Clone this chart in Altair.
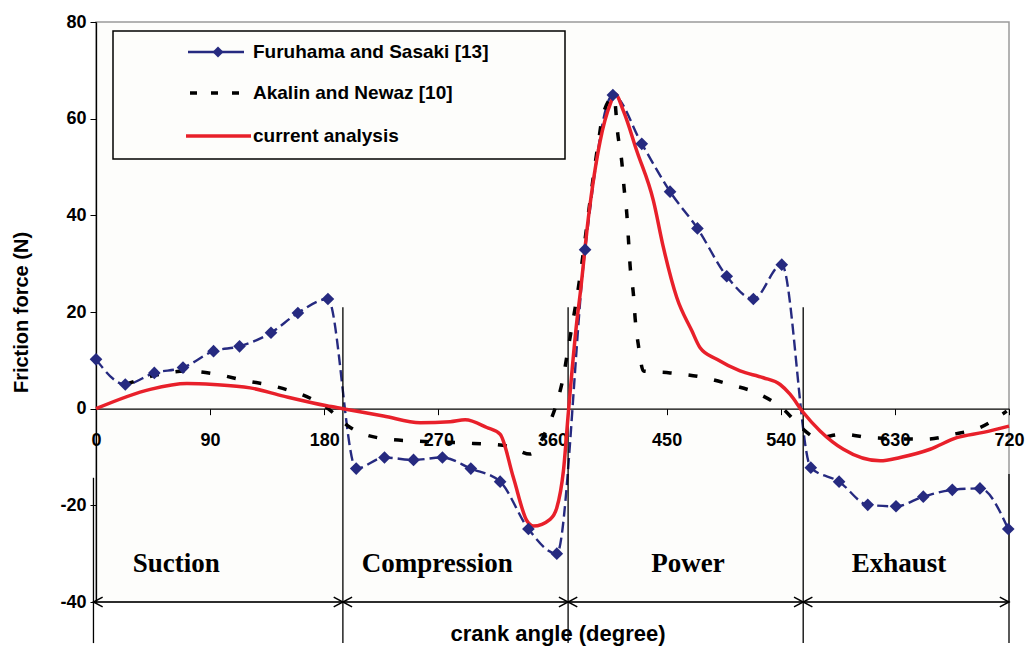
import altair as alt
import pandas as pd

# ---------------- data ----------------
fs_angle = [0, 23.1, 46, 68.6, 92.7, 113.2, 138, 159.2, 182.9, 205.2, 227.5, 250.4, 273.2,
            295.6, 318.7, 341, 363.4, 385.7, 407.6, 430.4, 452.7, 474.3, 497.4, 518.4,
            540.8, 563.7, 586, 608.6, 630.9, 652.4, 675.3, 697.1, 719.4]
fs_force = [10.2, 5.0, 7.4, 8.5, 11.9, 12.9, 15.7, 19.8, 22.7, -12.4, -10.1, -10.6, -10.1,
            -12.4, -15.1, -24.9, -30.0, 32.9, 64.9, 54.8, 44.9, 37.3, 27.4, 22.7,
            29.8, -12.2, -15.1, -19.9, -20.2, -18.2, -16.8, -16.5, -24.9]

an_angle = [23, 45, 71.7, 95.4, 117.7, 139.8, 183, 200.5, 229.4, 253, 297.7, 324, 342.4,
            355.5, 363.4, 368.4, 372.3, 379.2, 396, 399.9, 408.5, 411.5, 414.7, 416.5,
            418.6, 419.9, 421.3, 423.8, 425.2, 427.8, 431.7, 452.7, 476.4, 500, 522.4,
            542, 557.8, 568.4, 589.4, 610.4, 655.1, 676.1, 697.1, 718.2]
an_force = [5.0, 6.8, 7.8, 7.1, 5.8, 4.7, 0.0, -3.9, -6.3, -6.7, -7.2, -7.7, -9.4,
            -4.2, 1.2, 6.4, 12.4, 23.0, 54.8, 61.0, 64.5, 56.8, 50.9, 45.5,
            40.3, 35.0, 29.2, 23.7, 18.6, 13.0, 7.8, 7.4, 6.6, 5.0, 3.1,
            -0.1, -4.3, -6.0, -5.3, -6.0, -6.3, -5.3, -3.9, -0.5]

ca_angle = [0, 42.8, 71.7, 92.7, 121.6, 147.9, 182, 194.7, 226.7, 255.7, 279.3, 291.1, 308.2,
            318.7, 329.2, 339.8, 345, 358.1, 363.4, 368.6, 372.6, 379.2, 381.8, 388.3,
            397.6, 405.5, 409.4, 415.9, 426.5, 439.6, 447.5, 458, 469.9, 476.4, 489.6,
            507.9, 526.3, 539.5, 547.3, 557.8, 571, 589.4, 618.4, 634.2, 657.8, 678.8,
            699.7, 720]
ca_force = [0, 4.0, 5.2, 5.0, 4.3, 2.6, 0.6, 0.0, -1.5, -2.9, -2.7, -2.3, -3.9,
            -5.3, -14.3, -23.2, -24.3, -22.9, -20.5, -12.9, -0.5, 18.1, 23.7, 39.5,
            55.4, 63.0, 65.1, 61.6, 53.3, 43.0, 33.3, 23.0, 16.1, 12.6, 10.2,
            7.8, 6.4, 5.0, 3.0, -0.8, -4.6, -8.4, -10.8, -10.1, -8.4, -6.0,
            -4.9, -3.6]

x_ticks = [0, 90, 180, 270, 360, 450, 540, 630, 720]
y_ticks = [-40, -20, 0, 20, 40, 60, 80]

phase_names = ["Suction", "Compression", "Power", "Exhaust"]
phase_start = [-2, 194.7, 372.3, 557.7]
phase_end = [194.7, 372.3, 557.7, 720]
phase_label_x = [63.3, 269.1, 466.9, 633.2]
phase_label_y = -32.1
arrow_y = -40

divider_x = [-2, 194.7, 372.3, 557.7, 720]
divider_top = [-14.3, 21, 21, 21, -13.5]
divider_bottom = -48.5

legend_labels = ["Furuhama and Sasaki [13]", "Akalin and Newaz [10]", "current analysis"]

# ---------------- styling ----------------
NAVY = "#262a80"
RED = "#e8202a"
FONT = "Liberation Sans"
SERIF = "Liberation Serif"
W, H = 913, 580

fs_df = pd.DataFrame({"angle": fs_angle, "force": fs_force})
an_df = pd.DataFrame({"angle": an_angle, "force": an_force})
ca_df = pd.DataFrame({"angle": ca_angle, "force": ca_force})

xscale = alt.Scale(domain=[0, 720], nice=False, zero=False)
yscale = alt.Scale(domain=[-40, 80], nice=False, zero=False)

x_axis = alt.Axis(values=x_ticks, offset=-H * 40 / 120, grid=False, title="",
                  labelFont=FONT, labelFontWeight="bold", labelFontSize=18,
                  labelColor="black", labelPadding=17, tickSize=6, tickColor="black",
                  domainColor="black", domainWidth=1.3, labelFlush=False)
y_axis = alt.Axis(values=y_ticks, grid=False, title="Friction force (N)",
                  labelExpr="'' + datum.value",
                  titleFont=FONT, titleFontWeight="bold", titleFontSize=20,
                  titleColor="black", titlePadding=28,
                  labelFont=FONT, labelFontWeight="bold", labelFontSize=18,
                  labelColor="black", labelPadding=4, tickSize=6, tickColor="black",
                  domainColor="black", domainWidth=1.3)


def X(field):
    return alt.X(field, type="quantitative", scale=xscale, axis=x_axis)


def Y(field):
    return alt.Y(field, type="quantitative", scale=yscale, axis=y_axis)


fs_line = alt.Chart(fs_df).mark_line(color=NAVY, strokeWidth=2.4, strokeDash=[11, 5],
                                     interpolate="monotone").encode(x=X("angle"), y=Y("force"))
fs_pts = alt.Chart(fs_df).mark_point(shape="diamond", filled=True, color=NAVY,
                                     size=160, opacity=1).encode(x=X("angle"), y=Y("force"))
an_line = alt.Chart(an_df).mark_line(color="black", strokeWidth=3.5, strokeDash=[9, 17],
                                     interpolate="monotone").encode(x=X("angle"), y=Y("force"))
ca_line = alt.Chart(ca_df).mark_line(color=RED, strokeWidth=3.5,
                                     interpolate="monotone").encode(x=X("angle"), y=Y("force"))

div_df = pd.DataFrame({"angle": divider_x, "top": divider_top,
                       "bottom": [divider_bottom] * len(divider_x)})
dividers = alt.Chart(div_df).mark_rule(color="black", strokeWidth=1.3).encode(
    x=X("angle"), y=Y("top"), y2="bottom:Q")

ph_df = pd.DataFrame({"name": phase_names, "start": phase_start, "end": phase_end,
                      "lx": phase_label_x, "ay": [arrow_y] * 4,
                      "ly": [phase_label_y] * 4})
arrows = alt.Chart(ph_df).mark_rule(color="black", strokeWidth=1.3).encode(
    x=X("start"), x2="end:Q", y=Y("ay"))
left_heads = alt.Chart(ph_df).mark_point(
    shape="M 1.5 -0.8 L 0 0 L 1.5 0.8", filled=False, color="black",
    strokeWidth=1.5, size=150, opacity=1).encode(x=X("start"), y=Y("ay"))
right_heads = alt.Chart(ph_df).mark_point(
    shape="M -1.5 -0.8 L 0 0 L -1.5 0.8", filled=False, color="black",
    strokeWidth=1.5, size=150, opacity=1).encode(x=X("end"), y=Y("ay"))
phase_text = alt.Chart(ph_df).mark_text(font=SERIF, fontWeight="bold", fontSize=27,
                                        color="black", baseline="middle").encode(
    x=X("lx"), y=Y("ly"), text="name:N")

one = pd.DataFrame({"k": [0]})
x_title = alt.Chart(one).mark_text(text="crank angle (degree)", font=FONT,
                                   fontWeight="bold", fontSize=22, color="black",
                                   baseline="middle").encode(
    x=alt.value(462), y=alt.value(612))

# ---------------- legend (drawn) ----------------
leg_box = alt.Chart(one).mark_rect(fill="#fdfdfb", stroke="black", strokeWidth=1.5).encode(
    x=alt.value(17), x2=alt.value(469), y=alt.value(9), y2=alt.value(137))
leg_fs = alt.Chart(one).mark_rule(color=NAVY, strokeWidth=2.5).encode(
    x=alt.value(92), x2=alt.value(148), y=alt.value(30))
leg_fs_pt = alt.Chart(one).mark_point(shape="diamond", filled=True, color=NAVY,
                                      size=120, opacity=1).encode(
    x=alt.value(122), y=alt.value(30))
leg_an = alt.Chart(one).mark_rule(color="black", strokeWidth=3.5, strokeDash=[7, 14]).encode(
    x=alt.value(94), x2=alt.value(156), y=alt.value(71))
leg_ca = alt.Chart(one).mark_rule(color=RED, strokeWidth=3.5).encode(
    x=alt.value(90), x2=alt.value(155), y=alt.value(114))
leg_df = pd.DataFrame({"label": legend_labels, "ly": [30, 71, 114]})
leg_text = alt.Chart(leg_df).mark_text(font=FONT, fontWeight="bold", fontSize=19,
                                       color="black", align="left",
                                       baseline="middle").encode(
    x=alt.value(157), y=alt.Y("ly:Q", scale=None), text="label:N")

chart = alt.layer(
    fs_line, dividers, arrows, left_heads, right_heads, phase_text,
    an_line, ca_line, fs_pts,
    leg_box, leg_fs, leg_fs_pt, leg_an, leg_ca, leg_text, x_title
).properties(
    width=W, height=H,
    autosize=alt.AutoSizeParams(type="none"),
    padding={"left": 88, "top": 14, "right": 16, "bottom": 45},
    background="white",
).configure_view(
    stroke="#9a9a9a", strokeWidth=1.5, fill="#fdfdfb"
)

chart.save("out.html", embed_options={"renderer": "svg", "actions": False})
